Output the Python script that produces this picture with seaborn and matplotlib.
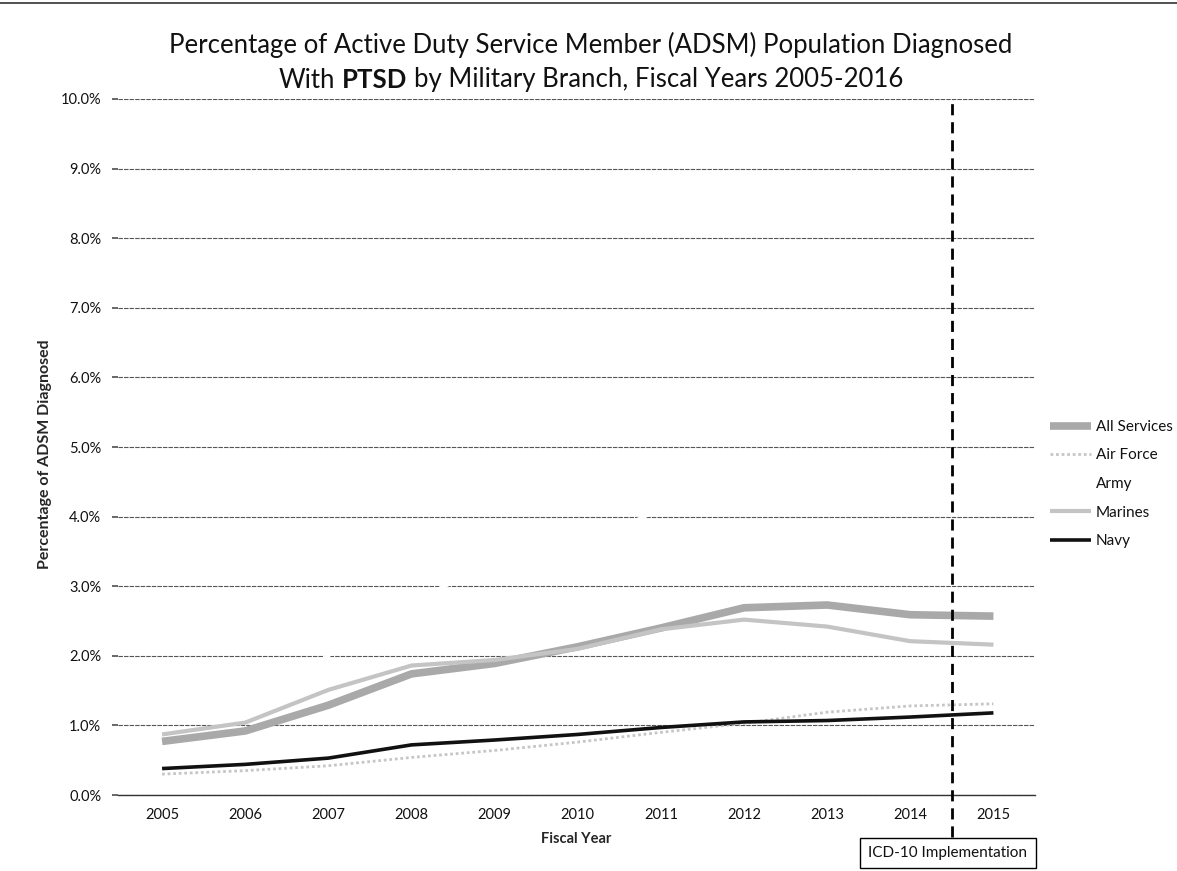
import numpy as np
import pandas as pd
import seaborn as sns
import matplotlib.pyplot as plt
from matplotlib.lines import Line2D
from matplotlib.ticker import FuncFormatter

# ---- data (percent of ADSM population diagnosed with PTSD) ----
years = [2005, 2006, 2007, 2008, 2009, 2010, 2011, 2012, 2013, 2014, 2015]
all_services = [0.77, 0.92, 1.29, 1.74, 1.89, 2.13, 2.40, 2.69, 2.73, 2.59, 2.57]
air_force = [0.30, 0.35, 0.42, 0.54, 0.64, 0.76, 0.90, 1.03, 1.19, 1.28, 1.31]
army = [1.05, 1.30, 2.00, 2.80, 3.30, 3.60, 4.10, 4.60, 4.70, 4.40, 4.30]
marines = [0.87, 1.04, 1.51, 1.86, 1.94, 2.10, 2.38, 2.52, 2.42, 2.21, 2.16]
navy = [0.38, 0.44, 0.53, 0.72, 0.79, 0.87, 0.97, 1.05, 1.07, 1.12, 1.18]
series_names = ["All Services", "Air Force", "Army", "Marines", "Navy"]
y_ticks = [0, 1, 2, 3, 4, 5, 6, 7, 8, 9, 10]

sns.set_theme(style="white")
plt.rcParams['font.family'] = ['Lato', 'DejaVu Sans']
plt.rcParams['text.color'] = '#111111'

W, H = 1177, 871
fig = plt.figure(figsize=(W / 100, H / 100), dpi=100)
ax = fig.add_axes([118 / W, 1 - 795 / H, (1035 - 118) / W, (795 - 99) / H])

styles = {
    "All Services": dict(color='#a9a9a9', linewidth=5.5, linestyle='-', zorder=3),
    "Air Force": dict(color='#c6c6c6', linewidth=2.0, linestyle=(0, (1, 1)), zorder=3),
    "Army": dict(color='#ffffff', linewidth=2.5, linestyle='-', zorder=2),
    "Marines": dict(color='#c4c4c4', linewidth=3.0, linestyle='-', zorder=3),
    "Navy": dict(color='#111111', linewidth=2.6, linestyle='-', zorder=4),
}
values = {"All Services": all_services, "Air Force": air_force, "Army": army,
          "Marines": marines, "Navy": navy}

for name in series_names:
    st = styles[name]
    sns.lineplot(x=years, y=values[name], ax=ax, label=name,
                 color=st['color'], linewidth=st['linewidth'],
                 linestyle=st['linestyle'], zorder=st['zorder'],
                 solid_capstyle='butt')

ax.set_xlim(2004.47, 2015.5)
ax.set_ylim(0, 10)
ax.set_yticks(y_ticks)
ax.yaxis.set_major_formatter(FuncFormatter(lambda v, p: f"{v:.1f}%"))
ax.set_xticks(years)
ax.set_xticklabels([str(y) for y in years])
ax.yaxis.grid(True, color='#555555', linewidth=0.8, linestyle=(0, (4, 1)))
ax.xaxis.grid(False)
ax.set_axisbelow(True)
for s in ['left', 'top', 'right']:
    ax.spines[s].set_visible(False)
ax.spines['bottom'].set_color('#333333')
ax.spines['bottom'].set_linewidth(1.0)
ax.tick_params(axis='y', left=True, length=4, color='#555555', labelsize=10.5, pad=8, labelcolor='#111111')
ax.tick_params(axis='x', bottom=False, length=0, labelsize=10.5, pad=9, labelcolor='#111111')

ax.set_ylabel("Percentage of ADSM Diagnosed", fontsize=11.5, fontweight='bold')
ax.yaxis.set_label_coords((52 - 118) / 917, 0.49)
ax.set_xlabel("Fiscal Year", fontsize=10.5, fontweight='bold')
ax.xaxis.set_label_coords(0.5, (795 - 832) / 696)

# ICD-10 implementation marker
ax.plot([2014.5, 2014.5], [-0.6, 10.0], color='black', linewidth=2.0,
        linestyle=(0, (4, 2.5)), clip_on=False, zorder=5)
fig.text(948 / W, 1 - 853 / H, "ICD-10 Implementation", ha='center', va='center',
         fontsize=11, bbox=dict(boxstyle='square,pad=0.55', fc='white', ec='black', lw=1))

# legend
handles, labels = ax.get_legend_handles_labels()
ax.legend(handles, labels, loc='center left', bbox_to_anchor=(1036 / W, 1 - 484 / H),
          bbox_transform=fig.transFigure, frameon=False, fontsize=11,
          handlelength=2.7, labelspacing=0.95, handletextpad=0.3)

# title
fs = 18.5
cx = 591 / W
fig.text(cx, 1 - 45 / H, "Percentage of Active Duty Service Member (ADSM) Population Diagnosed",
         ha='center', va='center', fontsize=fs)
r = fig.canvas.get_renderer()

def width(txt, weight):
    t = fig.text(0, 0, txt, fontsize=fs, fontweight=weight)
    w = t.get_window_extent(r).width
    t.remove()
    return w

sp = width("a a", 'normal') - width("aa", 'normal')
w_with = width("With", 'normal') + sp
w_ptsd = width("PTSD", 'bold') + sp
w_rest = width("by Military Branch, Fiscal Years 2005-2016", 'normal')
total = w_with + w_ptsd + w_rest
x0 = cx * W - total / 2
y2 = 1 - 80 / H
fig.text(x0 / W, y2, "With", ha='left', va='center', fontsize=fs)
fig.text((x0 + w_with) / W, y2, "PTSD", ha='left', va='center', fontsize=fs, fontweight='bold')
fig.text((x0 + w_with + w_ptsd) / W, y2, "by Military Branch, Fiscal Years 2005-2016",
         ha='left', va='center', fontsize=fs)

# scan frame line at top
fig.add_artist(Line2D([0, 1], [1 - 3 / H, 1 - 3 / H], transform=fig.transFigure,
                      color='#333333', linewidth=1.2))

fig.savefig("out.png", dpi=100)
